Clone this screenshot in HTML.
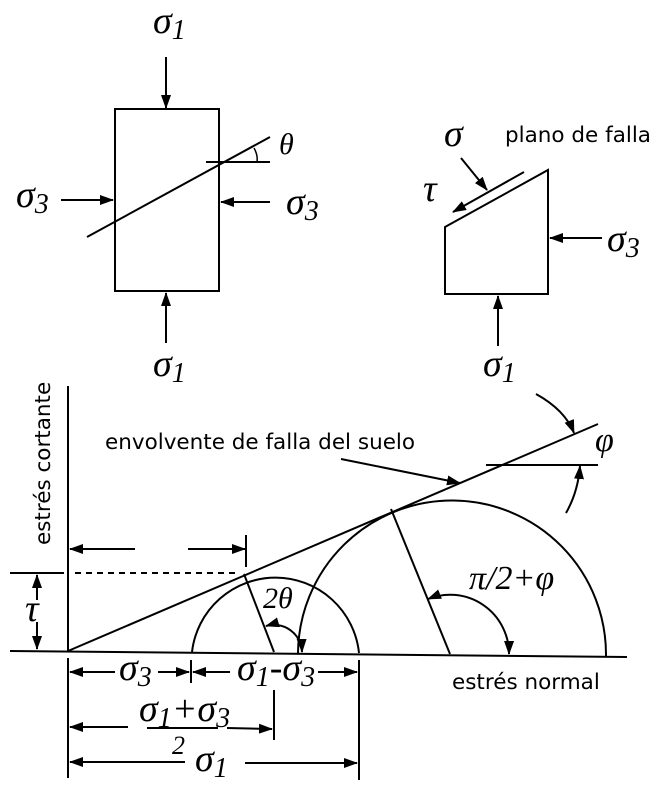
<!DOCTYPE html>
<html><head><meta charset="utf-8"><style>
html,body{margin:0;padding:0;background:#fff;}
svg{display:block;}
.g{font-family:"Liberation Serif",serif;font-style:italic;fill:#000;}
.s{font-family:"DejaVu Sans","Liberation Sans",sans-serif;fill:#000;}
</style></head><body>
<svg width="664" height="793" viewBox="0 0 664 793" xmlns="http://www.w3.org/2000/svg">
<defs>
<marker id="a" markerWidth="14" markerHeight="10" refX="13" refY="5" orient="auto-start-reverse" markerUnits="userSpaceOnUse">
<path d="M0,0 L14,5 L0,10 Z" fill="#000"/></marker>
</defs>
<g stroke="#000" stroke-width="2" fill="none">
<rect x="115" y="109" width="104" height="182"/>
<line x1="166" y1="57" x2="166" y2="108" marker-end="url(#a)"/>
<line x1="166" y1="343" x2="166" y2="293" marker-end="url(#a)"/>
<line x1="61" y1="200" x2="113" y2="200" marker-end="url(#a)"/>
<line x1="270" y1="202" x2="221" y2="202" marker-end="url(#a)"/>
<line x1="87" y1="237" x2="270" y2="137"/>
<line x1="206" y1="162" x2="270" y2="162"/>
<path d="M254,148 Q258,155 257,162" stroke-width="1.5"/>
<polygon points="445,227 548,170 548,294 445,294"/>
<line x1="602" y1="238" x2="550" y2="238" marker-end="url(#a)"/>
<line x1="498" y1="346" x2="498" y2="296" marker-end="url(#a)"/>
<line x1="461" y1="158" x2="487" y2="190" marker-end="url(#a)"/>
<line x1="524" y1="172" x2="453" y2="212" marker-end="url(#a)"/>
<line x1="68" y1="386" x2="68" y2="652"/>
<line x1="10" y1="651" x2="627" y2="657"/>
<line x1="68" y1="651" x2="598" y2="424"/>
<line x1="10" y1="573" x2="64" y2="573"/>
<line x1="75" y1="573" x2="240" y2="573" stroke-dasharray="6,5"/>
<line x1="37" y1="600" x2="37" y2="575" marker-end="url(#a)"/>
<line x1="37" y1="622" x2="37" y2="649" marker-end="url(#a)"/>
<path d="M192,652 A84,84 0 0 1 359,653"/>
<path d="M298,653 A154,154 0 0 1 606,656"/>
<line x1="244" y1="574" x2="274" y2="652"/>
<line x1="391" y1="509" x2="450" y2="654"/>
<path d="M302,652 A28,28 0 0 0 266,626" marker-start="url(#a)" marker-end="url(#a)"/>
<path d="M509,654 A59,59 0 0 0 428,599" marker-start="url(#a)" marker-end="url(#a)"/>
<path d="M536,394 Q565,410 574,433" marker-end="url(#a)"/>
<path d="M566,513 Q578,492 580,466" marker-end="url(#a)"/>
<line x1="486" y1="465" x2="598" y2="465"/>
<line x1="341" y1="459" x2="460" y2="483" marker-end="url(#a)"/>
<line x1="135" y1="549" x2="70" y2="549" marker-end="url(#a)"/>
<line x1="188" y1="549" x2="245" y2="549" marker-end="url(#a)"/>
<line x1="246" y1="535" x2="246" y2="567"/>
<line x1="68" y1="658" x2="68" y2="778"/>
<line x1="359" y1="660" x2="359" y2="780"/>
<line x1="191" y1="660" x2="191" y2="683"/>
<line x1="274" y1="690" x2="274" y2="740"/>
<line x1="115" y1="672" x2="70" y2="672" marker-end="url(#a)"/>
<line x1="158" y1="672" x2="189" y2="672" marker-end="url(#a)"/>
<line x1="230" y1="672" x2="193" y2="672" marker-end="url(#a)"/>
<line x1="318" y1="672" x2="357" y2="672" marker-end="url(#a)"/>
<line x1="128" y1="727" x2="70" y2="727" marker-end="url(#a)"/>
<line x1="227" y1="728" x2="272" y2="729" marker-end="url(#a)"/>
<line x1="147" y1="728" x2="218" y2="728"/>
<line x1="185" y1="762" x2="70" y2="762" marker-end="url(#a)"/>
<line x1="245" y1="763" x2="357" y2="763" marker-end="url(#a)"/>
</g>
<g class="g">
<text x="153" y="33" font-size="38">σ<tspan font-size="28" dy="6">1</tspan></text>
<text x="153" y="376" font-size="38">σ<tspan font-size="28" dy="6">1</tspan></text>
<text x="16" y="207" font-size="38">σ<tspan font-size="28" dy="6">3</tspan></text>
<text x="286" y="214" font-size="38">σ<tspan font-size="28" dy="6">3</tspan></text>
<text x="279" y="154" font-size="30">θ</text>
<text x="444" y="146" font-size="38">σ</text>
<text x="423" y="201" font-size="38">τ</text>
<text x="607" y="251" font-size="38">σ<tspan font-size="28" dy="6">3</tspan></text>
<text x="483" y="376" font-size="38">σ<tspan font-size="28" dy="6">1</tspan></text>
<text x="595" y="451" font-size="34">φ</text>
<text x="263" y="608" font-size="30">2θ</text>
<text x="469" y="589" font-size="34">π/2+φ</text>
<text x="25" y="621" font-size="38">τ</text>
<text x="119" y="680" font-size="38">σ<tspan font-size="28" dy="6">3</tspan></text>
<text x="237" y="680" font-size="38">σ<tspan font-size="28" dy="6">1</tspan><tspan dy="-6">-σ</tspan><tspan font-size="28" dy="6">3</tspan></text>
<text x="139" y="721" font-size="38">σ<tspan font-size="28" dy="6">1</tspan><tspan dy="-6">+σ</tspan><tspan font-size="28" dy="6">3</tspan></text>
<text x="172" y="754" font-size="26">2</text>
<text x="195" y="771" font-size="38">σ<tspan font-size="28" dy="6">1</tspan></text>
</g>
<g class="s" font-size="21.5">
<text x="505" y="142">plano de falla</text>
<text x="105" y="449">envolvente de falla del suelo</text>
<text x="452" y="689">estrés normal</text>
<text transform="translate(50,545) rotate(-90)">estrés cortante</text>
</g>
</svg>
</body></html>
